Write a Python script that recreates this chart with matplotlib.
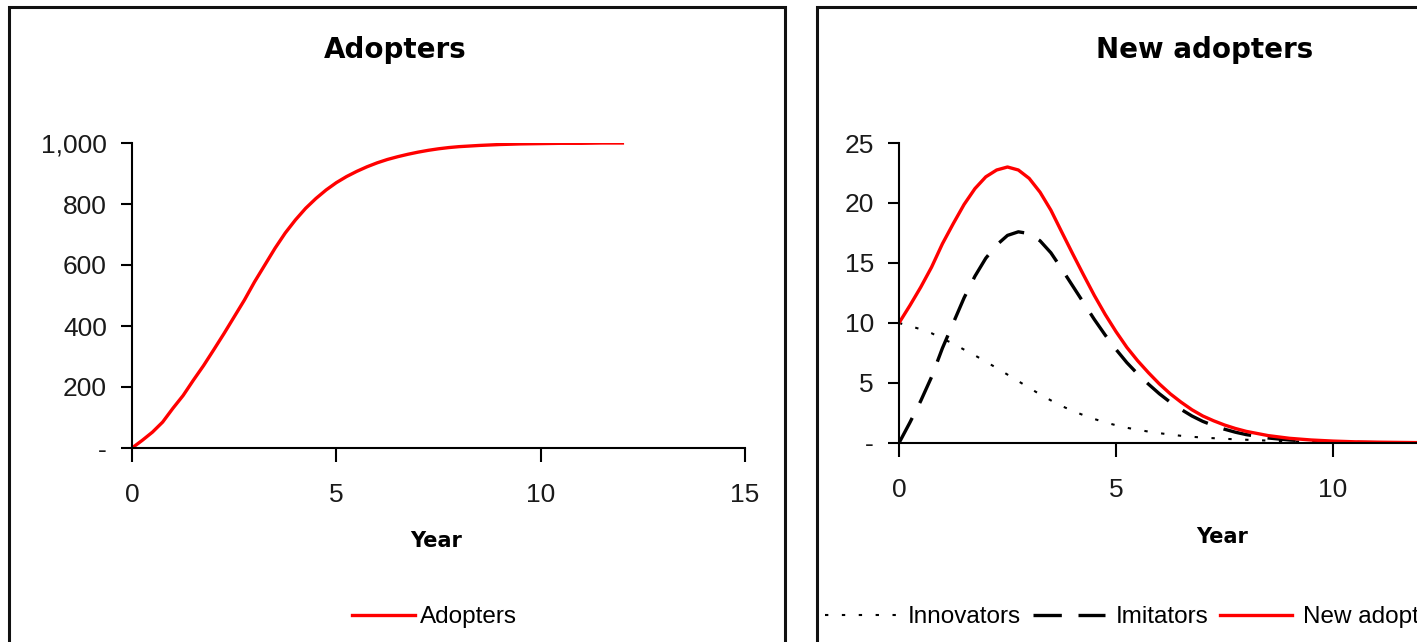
import matplotlib
matplotlib.use("Agg")
import matplotlib.pyplot as plt
from matplotlib.patches import Rectangle
from matplotlib import font_manager

# sample years (quarterly to year 8, then half-yearly)
years = [0, 0.25, 0.5, 0.75, 1, 1.25, 1.5, 1.75, 2, 2.25, 2.5, 2.75, 3, 3.25, 3.5, 3.75,
         4, 4.25, 4.5, 4.75, 5, 5.25, 5.5, 5.75, 6, 6.25, 6.5, 6.75, 7, 7.25, 7.5, 7.75,
         8, 8.5, 9, 9.5, 10, 10.5, 11, 11.5, 12]

adopters = [0, 25, 52, 85, 130, 172, 222, 270, 322, 375, 430, 485, 545, 600, 655, 705,
            748, 786, 818, 846, 870, 890, 907, 922, 935, 946, 955, 963, 970, 976, 981, 985,
            988, 992, 995, 997, 998, 999, 999, 1000, 1000]

innovators = [10.0, 9.75, 9.48, 9.15, 8.7, 8.28, 7.78, 7.3, 6.78, 6.25, 5.7, 5.15, 4.6, 4.05,
              3.55, 3.08, 2.68, 2.32, 2.0, 1.72, 1.48, 1.27, 1.1, 0.95, 0.82, 0.7, 0.6, 0.52,
              0.45, 0.4, 0.35, 0.31, 0.27, 0.2, 0.14, 0.1, 0.07, 0.05, 0.04, 0.03, 0.02]

imitators = [0, 1.7, 3.5, 5.5, 7.9, 10.0, 12.1, 13.9, 15.4, 16.5, 17.3, 17.6, 17.45, 16.85,
             15.85, 14.5, 13.1, 11.7, 10.3, 9.0, 7.8, 6.7, 5.75, 4.9, 4.1, 3.4, 2.8, 2.25,
             1.8, 1.45, 1.15, 0.9, 0.7, 0.42, 0.25, 0.15, 0.09, 0.05, 0.03, 0.02, 0.01]

new_adopters = [10.0, 11.45, 12.98, 14.65, 16.6, 18.28, 19.88, 21.2, 22.18, 22.75, 23.0, 22.75,
                22.05, 20.9, 19.4, 17.58, 15.78, 14.02, 12.3, 10.72, 9.28, 7.97, 6.85, 5.85,
                4.92, 4.1, 3.4, 2.77, 2.25, 1.85, 1.5, 1.21, 0.97, 0.62, 0.39, 0.25, 0.16,
                0.1, 0.07, 0.05, 0.03]

x_ticks = [0, 5, 10, 15]
adopt_ticks = [0, 200, 400, 600, 800, 1000]
adopt_labels = ["-", "200", "400", "600", "800", "1,000"]
new_ticks = [0, 5, 10, 15, 20, 25]
new_labels = ["-", "5", "10", "15", "20", "25"]

W, H = 1417, 642
RED = "#ff0000"

names = {f.name for f in font_manager.fontManager.ttflist}
tick_font = "Liberation Sans Narrow" if "Liberation Sans Narrow" in names else "Liberation Sans"
tick_size = 21 if tick_font == "Liberation Sans Narrow" else 19


def fx(px):
    return px / W


def fy(py):
    return 1 - py / H


def style_axis(ax, yticks, ylabels, ymax):
    ax.set_xlim(0, 15)
    ax.set_ylim(0, ymax)
    for s in ["top", "right"]:
        ax.spines[s].set_visible(False)
    for s in ["left", "bottom"]:
        ax.spines[s].set_linewidth(1.5)
        ax.spines[s].set_color("black")
    ax.set_xticks(x_ticks)
    ax.set_xticklabels([str(t) for t in x_ticks])
    ax.set_yticks(yticks)
    ax.set_yticklabels(ylabels)
    ax.tick_params(axis="x", direction="out", length=10, width=1.5, pad=15)
    ax.tick_params(axis="y", direction="out", length=8, width=1.5, pad=10)
    for lab in ax.get_xticklabels() + ax.get_yticklabels():
        lab.set_fontfamily(tick_font)
        lab.set_fontsize(tick_size)
        lab.set_color("#1a1a1a")


fig = plt.figure(figsize=(W / 100, H / 100), dpi=100)

# chart frames
fig.add_artist(Rectangle((fx(8.5), -0.1), fx(785) - fx(8.5), 1.1 - 6.5 / H,
                         transform=fig.transFigure, fill=False, lw=2.2, ec="#111111"))
fig.add_artist(Rectangle((fx(816.5), -0.1), 1.0, 1.1 - 6.5 / H,
                         transform=fig.transFigure, fill=False, lw=2.2, ec="#111111"))

# left: cumulative adopters
ax1 = fig.add_axes([fx(132), fy(448), (745 - 132) / W, (448 - 143) / H])
ax1.plot(years, adopters, color=RED, lw=2.4, label="Adopters")
style_axis(ax1, adopt_ticks, adopt_labels, 1000)
fig.text(fx(395), fy(50), "Adopters", ha="center", va="center",
         fontsize=20, fontweight="bold", family="DejaVu Sans")
fig.text(fx(436), fy(541), "Year", ha="center", va="center",
         fontsize=15, fontweight="bold", family="DejaVu Sans")
ax1.legend(loc="center left", bbox_to_anchor=(fx(352), fy(617)), bbox_transform=fig.transFigure,
           frameon=False, borderpad=0, borderaxespad=0, handlelength=2.6, handletextpad=0.2,
           prop={"family": "Liberation Sans", "size": 17.5})

# right: new adopters per period
ax2 = fig.add_axes([fx(899), fy(443), (1550 - 899) / W, (443 - 143) / H])
ax2.plot(years, innovators, color="black", lw=1.5, linestyle=(0, (1.6, 6.5)), label="Innovators")
ax2.plot(years, imitators, color="black", lw=2.4, linestyle=(0, (8.5, 5)), label="Imitators")
ax2.plot(years, new_adopters, color=RED, lw=2.4, label="New adopters")
style_axis(ax2, new_ticks, new_labels, 25)
fig.text(fx(1205), fy(50), "New adopters", ha="center", va="center",
         fontsize=20, fontweight="bold", family="DejaVu Sans")
fig.text(fx(1222), fy(537), "Year", ha="center", va="center",
         fontsize=15, fontweight="bold", family="DejaVu Sans")
ax2.legend(loc="center left", bbox_to_anchor=(fx(825), fy(617)), bbox_transform=fig.transFigure,
           ncol=3, frameon=False, borderpad=0, borderaxespad=0, handlelength=2.95,
           handletextpad=0.45, columnspacing=0.5,
           prop={"family": "Liberation Sans", "size": 17.5})

fig.savefig("out.png", dpi=100)
